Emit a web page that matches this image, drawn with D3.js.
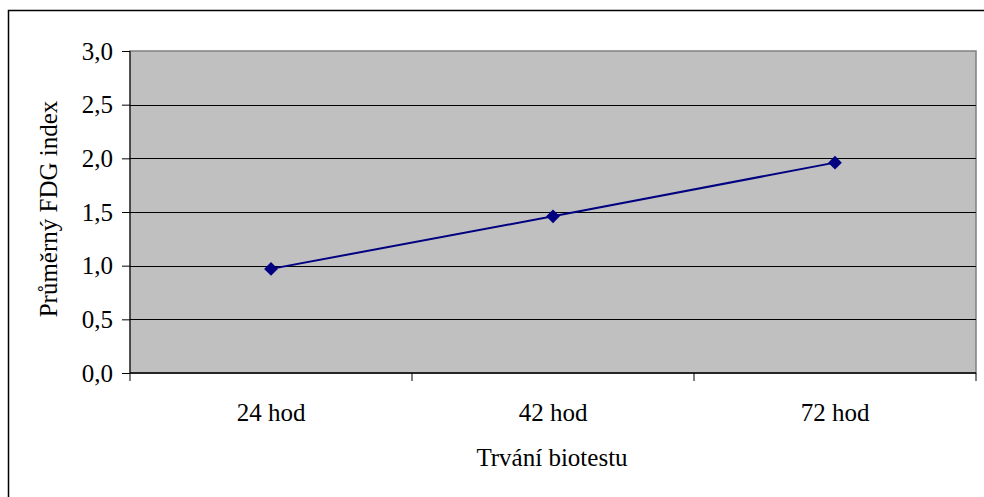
<!DOCTYPE html>
<html>
<head>
<meta charset="utf-8">
<script src="https://cdn.jsdelivr.net/npm/d3@7"></script>
<style>
  body { margin: 0; background: #fff; }
  svg text { font-family: "Liberation Serif", "Times New Roman", serif; fill: #000; }
</style>
</head>
<body>
<div id="chart"></div>
<script>
  // duration of the biotest (categories)
  var categories = ["24 hod", "42 hod", "72 hod"]
  // mean FDG index per category
  var fdgValues = [0.97, 1.46, 1.96]
  // y axis ticks
  var yTicks = [0, 0.5, 1, 1.5, 2, 2.5, 3]

  var width = 984, height = 497
  var fontSize = "25px"
  var margin = {top: 51, left: 130}
  var plotW = 976 - margin.left
  var plotH = 373 - margin.top

  var svg = d3.select("#chart").append("svg")
    .attr("width", width)
    .attr("height", height)
    .attr("font-family", "Liberation Serif, serif")

  // outer frame of the chart
  svg.append("rect")
    .attr("x", 8.5).attr("y", 10.5)
    .attr("width", 990).attr("height", 500)
    .attr("fill", "none")
    .attr("stroke", "#000")
    .attr("stroke-width", 1.5)

  var plot = svg.append("g")
    .attr("transform", "translate(" + margin.left + "," + margin.top + ")")

  var x = d3.scaleBand().domain(categories).range([0, plotW])
  var y = d3.scaleLinear().domain([0, 3]).range([plotH, 0])

  // grey plot area
  plot.append("rect")
    .attr("width", plotW).attr("height", plotH)
    .attr("fill", "#c0c0c0")
    .attr("stroke", "#808080")
    .attr("stroke-width", 1.5)

  // horizontal gridlines
  plot.selectAll(".grid")
    .data(yTicks.filter(function(d){ return d > 0 && d < 3 }))
    .enter().append("line")
    .attr("x1", 0).attr("x2", plotW)
    .attr("y1", function(d){ return Math.round(y(d)) + 0.5 })
    .attr("y2", function(d){ return Math.round(y(d)) + 0.5 })
    .attr("stroke", "#000")
    .attr("stroke-width", 1)

  // y axis
  var yAxis = d3.axisLeft(y)
    .tickValues(yTicks)
    .tickSize(8)
    .tickPadding(9)
    .tickFormat(function(d){ return d3.format(".1f")(d).replace(".", ",") })

  var yg = plot.append("g").call(yAxis)
    .attr("font-family", null).attr("font-size", null)
  yg.select(".domain").attr("stroke", "#000").attr("d", "M0,0V" + plotH)
  yg.selectAll(".tick line").attr("stroke", "#000")
  yg.selectAll("text").style("font-size", fontSize)

  // x axis with ticks at category boundaries
  var xg = plot.append("g").attr("transform", "translate(0," + plotH + ")")
  xg.append("line")
    .attr("x1", 0).attr("x2", plotW)
    .attr("stroke", "#000").attr("stroke-width", 1.5)
  xg.selectAll(".xtick")
    .data([0, 1, 2, 3])
    .enter().append("line")
    .attr("x1", function(d){ return x.step() * d })
    .attr("x2", function(d){ return x.step() * d })
    .attr("y1", 0).attr("y2", 8)
    .attr("stroke", "#000")
  xg.selectAll(".xlabel")
    .data(categories)
    .enter().append("text")
    .attr("x", function(d){ return x(d) + x.bandwidth() / 2 })
    .attr("y", 48)
    .attr("text-anchor", "middle")
    .style("font-size", fontSize)
    .text(function(d){ return d })

  // the series line
  var line = d3.line()
    .x(function(d, i){ return x(categories[i]) + x.bandwidth() / 2 })
    .y(function(d){ return y(d) })

  plot.append("path")
    .datum(fdgValues)
    .attr("d", line)
    .attr("fill", "none")
    .attr("stroke", "#000080")
    .attr("stroke-width", 2)

  // diamond markers
  plot.selectAll(".marker")
    .data(fdgValues)
    .enter().append("path")
    .attr("d", d3.symbol().type(d3.symbolDiamond2).size(120))
    .attr("transform", function(d, i){
      return "translate(" + (x(categories[i]) + x.bandwidth() / 2) + "," + y(d) + ")"
    })
    .attr("fill", "#000080")

  // axis titles
  svg.append("text")
    .attr("x", 552).attr("y", 466)
    .attr("text-anchor", "middle")
    .style("font-size", fontSize)
    .text("Trvání biotestu")

  svg.append("text")
    .attr("transform", "translate(57,209) rotate(-90)")
    .attr("text-anchor", "middle")
    .style("font-size", fontSize)
    .text("Průměrný FDG index")
</script>
</body>
</html>
